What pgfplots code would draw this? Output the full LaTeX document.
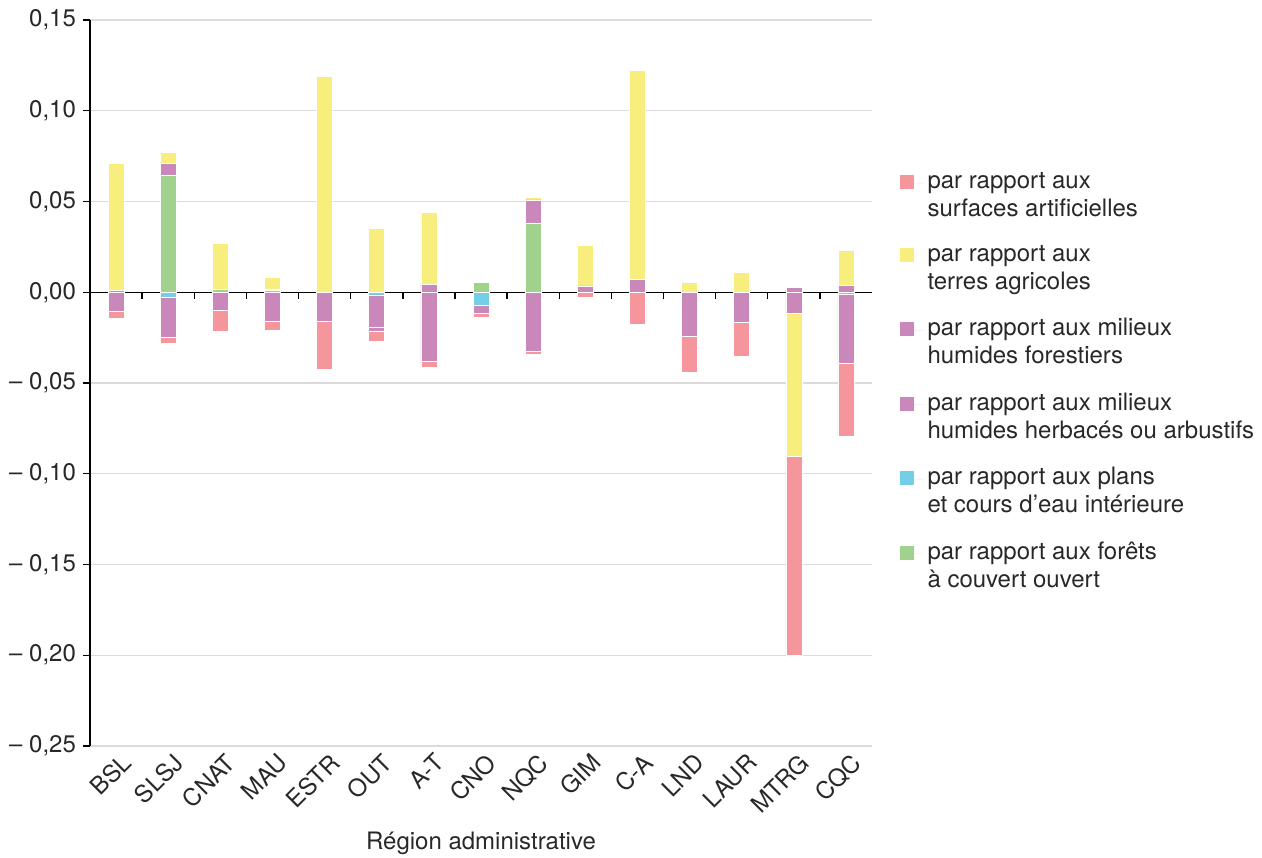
\documentclass[border=0pt]{standalone}
\usepackage{pgfplots}
\usepackage{pgfplotstable}
\usepackage{fontspec}
\setmainfont{TeX Gyre Heros}
\pgfplotsset{compat=1.18}

\definecolor{cpink}{RGB}{244,150,156}
\definecolor{cyellow}{RGB}{248,238,125}
\definecolor{cpurple}{RGB}{202,135,186}
\definecolor{ccyan}{RGB}{115,206,230}
\definecolor{cgreen}{RGB}{160,210,142}
\definecolor{ctext}{RGB}{40,40,40}

% positive parts, stacked upwards from zero
\pgfplotstableread{
x  green   cyan purpH purpF   yellow pink
0  0       0    0     0.0010  0.0698 0
1  0.0644  0    0     0.0068  0.0061 0
2  0.0017  0    0     0       0.0252 0
3  0.0010  0    0     0.0005  0.0066 0
4  0       0    0     0       0.1188 0
5  0       0    0     0       0.0352 0
6  0       0    0     0.0044  0.0395 0
7  0.0055  0    0     0       0.0007 0
8  0.0380  0    0     0.0129  0.0015 0
9  0       0    0     0.0035  0.0223 0
10 0       0    0     0.0071  0.1154 0
11 0       0    0     0       0.0053 0
12 0       0    0     0       0.0112 0
13 0       0    0     0.0025  0      0
14 0       0    0     0.0037  0.0195 0
}\pos
% negative parts, stacked downwards from zero
\pgfplotstableread{
x  green cyan    purpH    purpF    yellow   pink
0  0     0       -0.0103  0        0        -0.0038
1  0     -0.0030 -0.0220  0        0        -0.0031
2  0     0       -0.0098  0        0        -0.0116
3  0     0       -0.0162  0        0        -0.0046
4  0     0       -0.0161  0        0        -0.0265
5  0     -0.0015 -0.0177  -0.0022  0        -0.0055
6  0     0       -0.0380  0        0        -0.0032
7  0     -0.0072 -0.0046  0        0        -0.0019
8  0     0       -0.0323  0        0        -0.0017
9  0     0       0        0        0        -0.0026
10 0     0       0        0        0        -0.0174
11 0     0       -0.0244  0        0        -0.0195
12 0     0       -0.0164  0        0        -0.0190
13 0     0       -0.0118  0        -0.0788  -0.1095
14 0     -0.0010 -0.0380  0        0        -0.0406
}\neg

\pgfplotsset{
  base/.style={
    width=391pt, height=363pt, scale only axis,
    xmin=-0.5, xmax=14.5, ymin=-0.25, ymax=0.15,
    ybar stacked, bar width=8pt,
  },
  every axis plot/.append style={draw=white, line width=0.3pt},
}

\begin{document}
\begin{tikzpicture}
  \begin{axis}[base,
    axis y line*=left, axis x line*=bottom,
    x axis line style={draw=none},
    y axis line style={black, line width=0.7pt},
    xtick={0,...,14},
    xticklabels={BSL,SLSJ,CNAT,MAU,ESTR,OUT,A-T,CNO,NQC,GIM,C-A,LND,LAUR,MTRG,CQC},
    xtick style={draw=none},
    xticklabel style={rotate=45, anchor=north east, font=\fontsize{12}{14}\selectfont, text=ctext, inner sep=1pt, xshift=3pt},
    ytick={-0.25,-0.2,-0.15,-0.1,-0.05,0,0.05,0.1,0.15},
    yticklabels={{– 0,25},{– 0,20},{– 0,15},{– 0,10},{– 0,05},{0,00},{0,05},{0,10},{0,15}},
    yticklabel style={font=\fontsize{12}{14}\selectfont, text=ctext},
    tick align=outside, major tick length=3.5pt,
    ytick style={black, line width=0.7pt},
    ymajorgrids, grid style={gray!28, line width=0.6pt},
    xlabel={Région administrative},
    xlabel style={at={(axis description cs:0.5,0)}, anchor=base, yshift=-51.5pt, font=\fontsize{12}{14}\selectfont, text=ctext},
    reverse legend,
    legend style={at={(1.027,0.802)}, anchor=north west, draw=none, fill=none,
      font=\fontsize{12}{14}\selectfont, text=ctext,
      cells={anchor=west, align=left}, row sep=9pt},
    legend image code/.code={\fill[#1, draw=none] (-4pt,3.2pt) rectangle (3pt,10.2pt); \path[draw=none] (-4pt,6pt) -- (8pt,6pt);},
  ]
    \addplot[fill=cgreen] table[x=x, y=green] {\pos};
    \addlegendentry{par rapport aux forêts\\à couvert ouvert}
    \addplot[fill=ccyan] table[x=x, y=cyan] {\pos};
    \addlegendentry{par rapport aux plans\\et cours d'eau intérieure}
    \addplot[fill=cpurple] table[x=x, y=purpH] {\pos};
    \addlegendentry{par rapport aux milieux\\humides herbacés ou arbustifs}
    \addplot[fill=cpurple] table[x=x, y=purpF] {\pos};
    \addlegendentry{par rapport aux milieux\\humides forestiers}
    \addplot[fill=cyellow] table[x=x, y=yellow] {\pos};
    \addlegendentry{par rapport aux\\terres agricoles}
    \addplot[fill=cpink] table[x=x, y=pink] {\pos};
    \addlegendentry{par rapport aux\\surfaces artificielles}
  \end{axis}
  \begin{axis}[base, hide axis]
    \addplot[fill=cgreen] table[x=x, y=green] {\neg};
    \addplot[fill=ccyan] table[x=x, y=cyan] {\neg};
    \addplot[fill=cpurple] table[x=x, y=purpH] {\neg};
    \addplot[fill=cpurple] table[x=x, y=purpF] {\neg};
    \addplot[fill=cyellow] table[x=x, y=yellow] {\neg};
    \addplot[fill=cpink] table[x=x, y=pink] {\neg};
    \draw[black, line width=0.7pt] (axis cs:-0.5,0) -- (axis cs:14.5,0);
    \pgfplotsinvokeforeach{0.5,1.5,...,13.5}{
      \draw[black, line width=0.7pt] (axis cs:#1,0) -- ++(0pt,-3.5pt);
    }
  \end{axis}
  \pgfresetboundingbox
  \path (-45pt,-55.5pt) rectangle (586pt,373pt);
\end{tikzpicture}
\end{document}
